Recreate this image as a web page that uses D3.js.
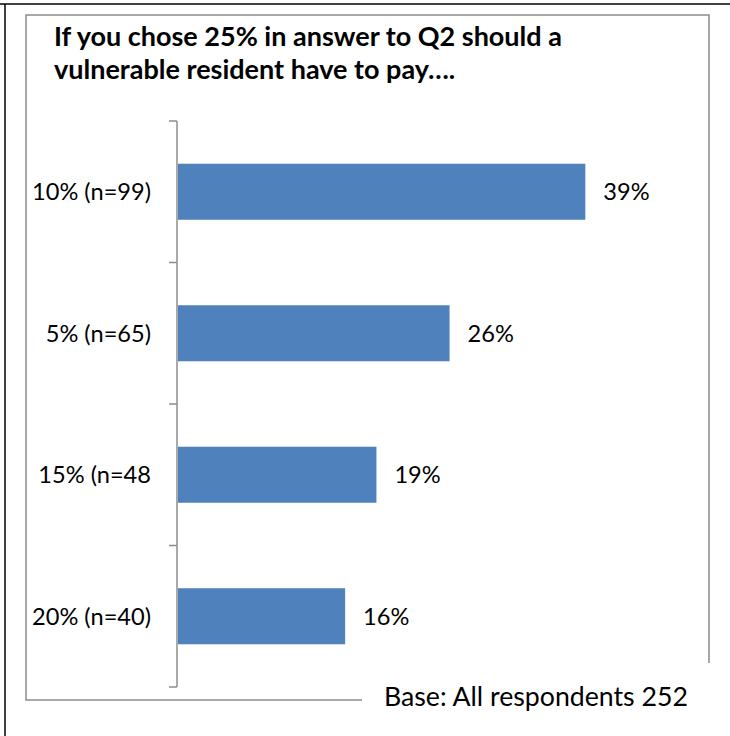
<!DOCTYPE html>
<html><head><meta charset="utf-8">
<script src="https://cdn.jsdelivr.net/npm/d3@7"></script>
<style>
  body { margin: 0; background: #fff; }
  text { font-family: Lato, "Open Sans", sans-serif; fill: #000; }
</style>
</head><body>
<svg id="chart" width="730" height="736"></svg>
<script>
// Survey answers, top to bottom
const categories = ["10% (n=99)", "5% (n=65)", "15% (n=48", "20% (n=40)"];
const shares = [0.39, 0.26, 0.19, 0.16];
const valueLabels = ["39%", "26%", "19%", "16%"];
const titleLines = ["If you chose 25% in answer to Q2 should a", "vulnerable resident have to pay…."];
const baseNote = "Base: All respondents 252";

const svg = d3.select("#chart");
const frameGrey = "#8c8c8c";

// Outer page frame (top and left edges)
svg.append("line").attr("x1", 0).attr("x2", 730).attr("y1", 4).attr("y2", 4)
  .attr("stroke", "#000").attr("stroke-width", 1.5);
svg.append("line").attr("x1", 5).attr("x2", 5).attr("y1", 4).attr("y2", 736)
  .attr("stroke", "#000").attr("stroke-width", 1.5);

// Chart border, partly covered by the base note at the bottom right
const box = { l: 26, t: 15, r: 709, b: 700 };
svg.append("path")
  .attr("d", `M${box.r},663 V${box.t} H${box.l} V${box.b} H362`)
  .attr("fill", "none").attr("stroke", frameGrey).attr("stroke-width", 1.5);

// Title
const title = svg.append("text").attr("font-weight", "bold").style("font-size", "27px");
titleLines.forEach((t, i) => {
  title.append("tspan").attr("x", 54).attr("y", 46 + i * 33).text(t);
});

// Scales
const y = d3.scaleBand().domain(categories).range([121, 687])
  .paddingInner(0.604).paddingOuter(0.302);
const x = d3.scaleLinear().domain([0, 0.45]).range([178, 648]);

// Bars
svg.append("g").selectAll("rect").data(shares).join("rect")
  .attr("x", x(0))
  .attr("y", (d, i) => y(categories[i]))
  .attr("width", d => x(d) - x(0))
  .attr("height", y.bandwidth())
  .attr("fill", "#4f81bd");

// Category axis: ticks sit on the band boundaries
const axisX = 177;
const step = y.step();
const tickYs = d3.range(categories.length + 1).map(i => y.range()[0] + i * step);
const axis = svg.append("g").attr("stroke", frameGrey).attr("stroke-width", 1.5).attr("fill", "none");
axis.append("line").attr("x1", axisX).attr("x2", axisX)
  .attr("y1", tickYs[0]).attr("y2", tickYs[tickYs.length - 1]);
axis.selectAll("line.tick").data(tickYs).join("line").attr("class", "tick")
  .attr("x1", axisX - 8).attr("x2", axisX).attr("y1", d => d).attr("y2", d => d);

// Category labels
svg.append("g").selectAll("text").data(categories).join("text")
  .attr("x", 151)
  .attr("y", d => y(d) + y.bandwidth() / 2 + 8.7)
  .attr("text-anchor", "end")
  .style("font-size", "23.6px")
  .text(d => d);

// Value labels
svg.append("g").selectAll("text").data(shares).join("text")
  .attr("x", d => x(d) + 18)
  .attr("y", (d, i) => y(categories[i]) + y.bandwidth() / 2 + 8.7)
  .style("font-size", "23.6px")
  .text((d, i) => valueLabels[i]);

// Base note
svg.append("text").attr("x", 384).attr("y", 706).style("font-size", "26.7px").text(baseNote);
</script></body></html>
